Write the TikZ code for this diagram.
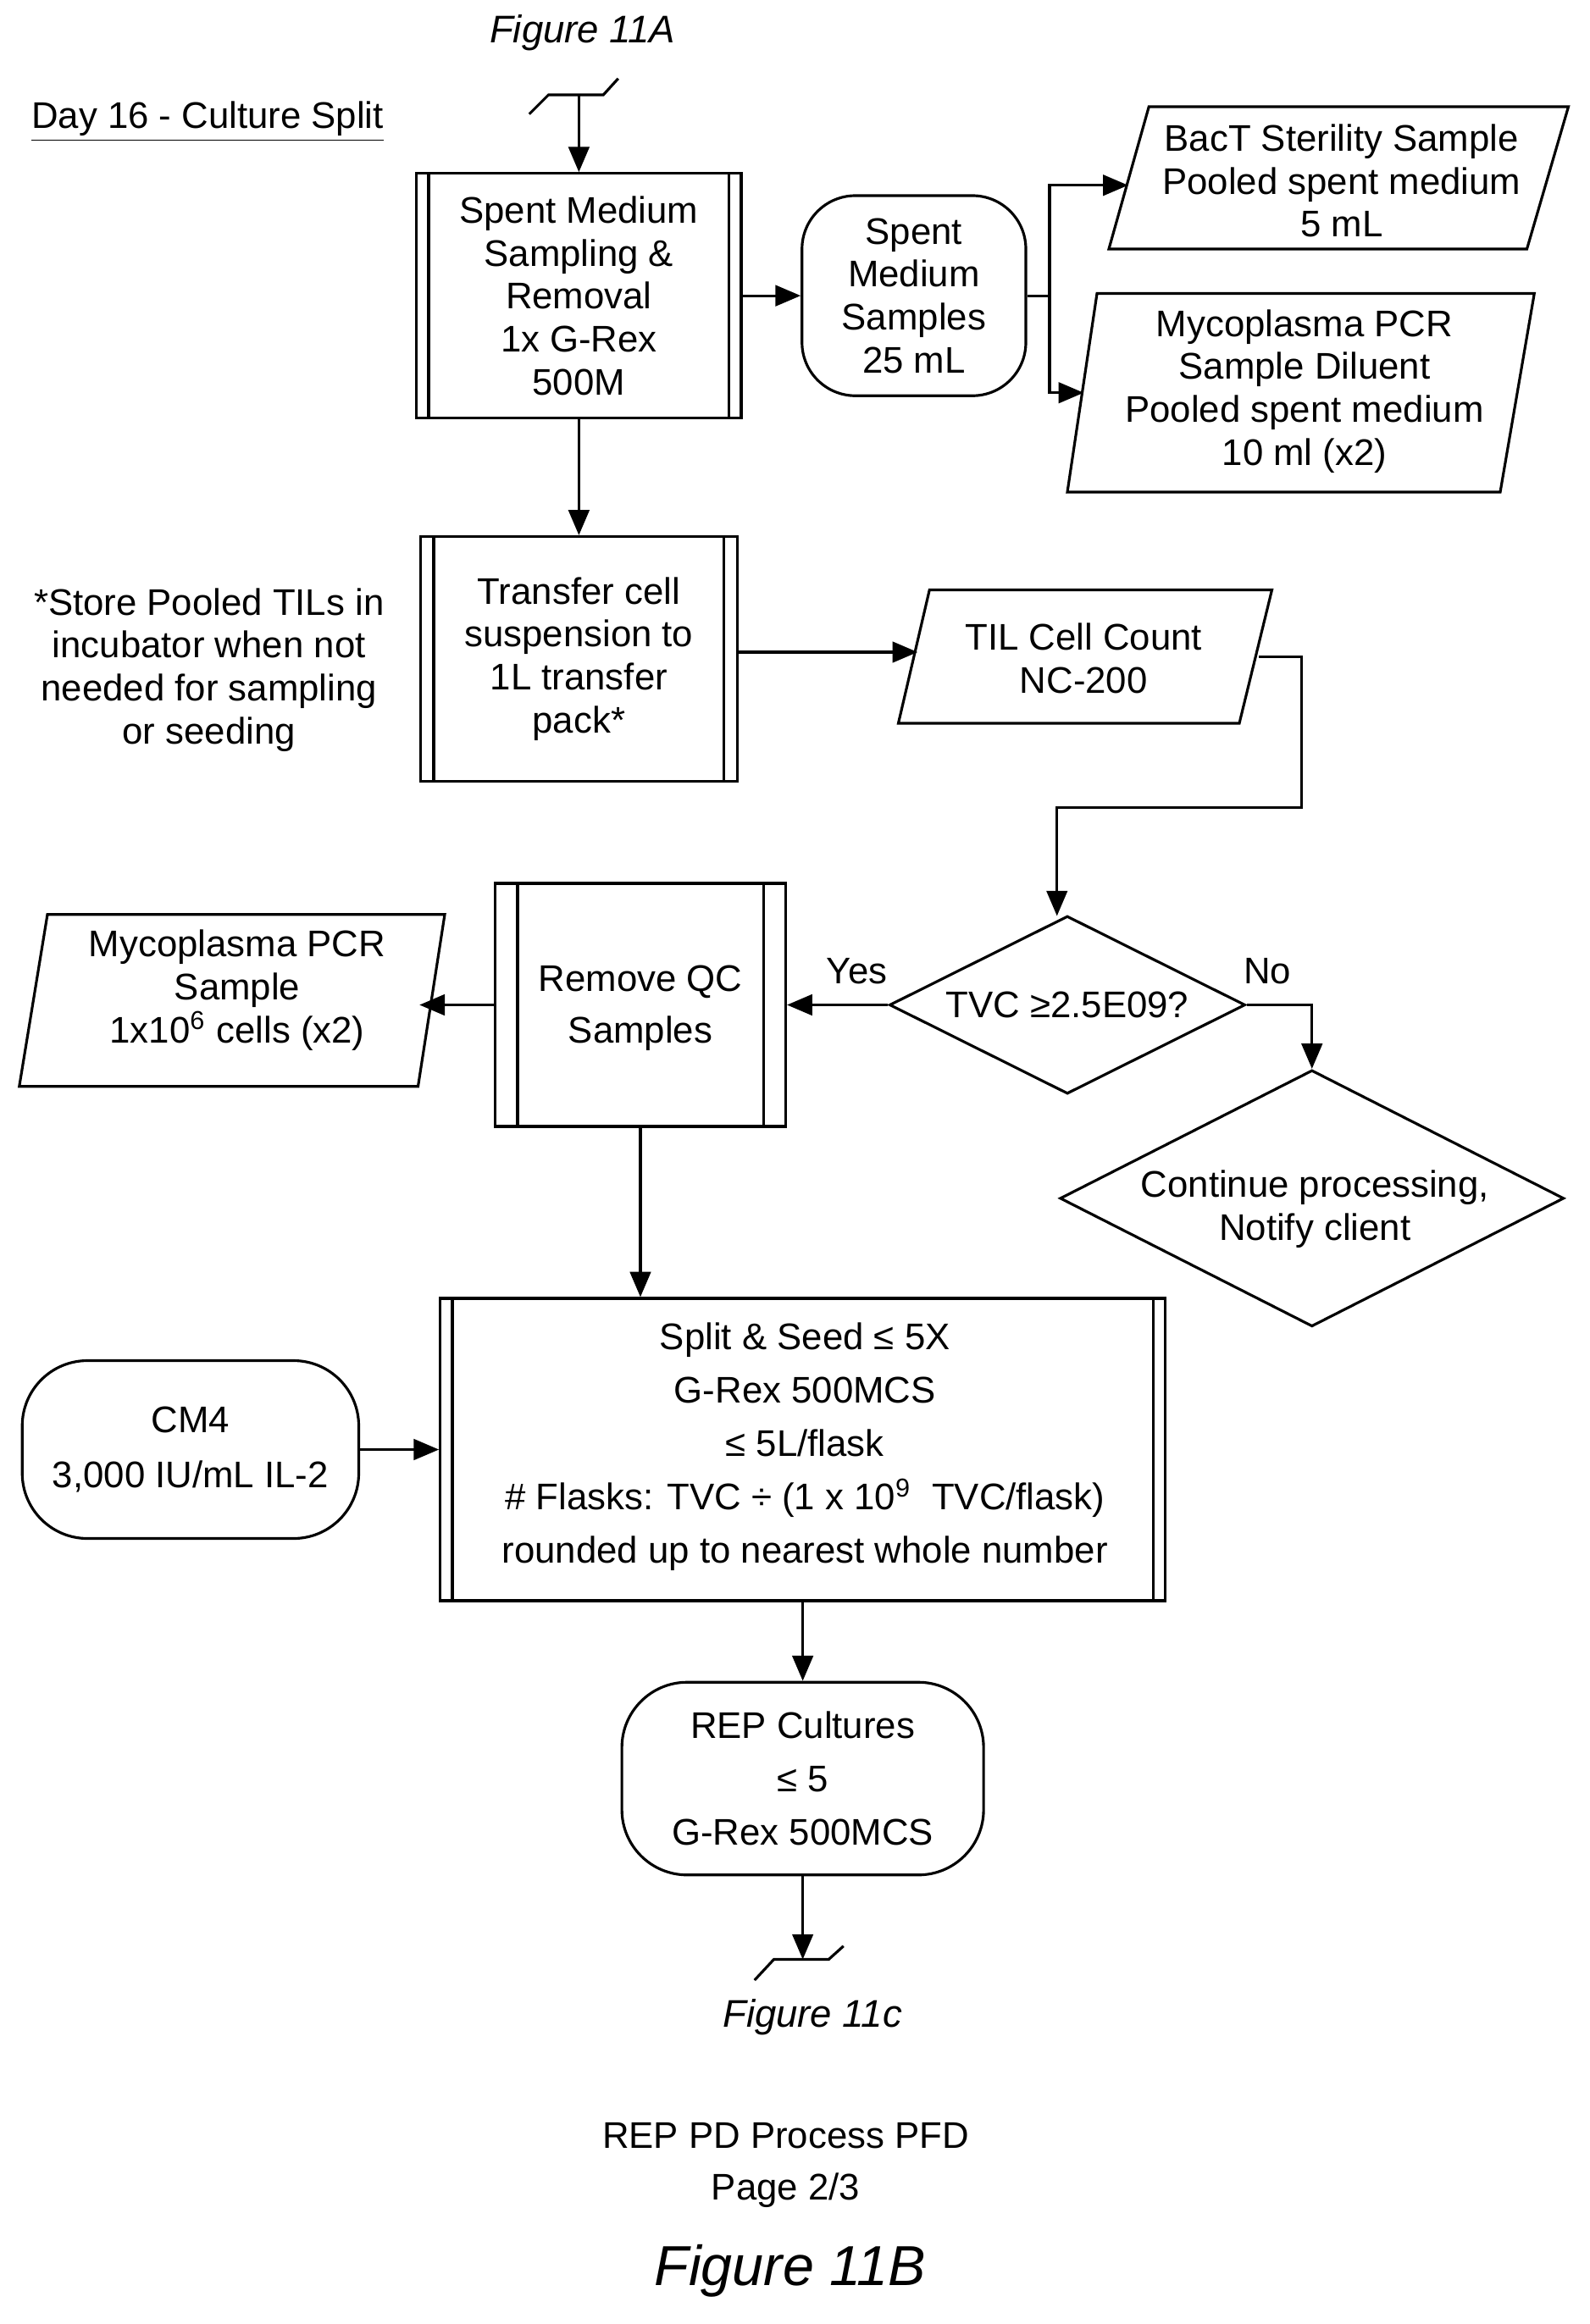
\documentclass[tikz,border=0pt]{standalone}
\usepackage{fontspec}
\setmainfont{Liberation Sans}
\usetikzlibrary{arrows.meta,shapes.geometric}
\begin{document}
\begin{tikzpicture}[x=0.5pt,y=-0.5pt,line width=0.9pt,
  font=\fontsize{12.5}{14.5}\selectfont,
  arr/.style={-{Triangle[width=7pt,length=8.5pt]}},
  txt/.style={align=center,inner sep=0pt},
  pp/.style={draw,rectangle,inner sep=0pt,align=center},
  rr/.style={draw,rounded corners=20pt,inner sep=0pt,align=center}]
\useasboundingbox (0,0) rectangle (1072,1568);
% titles
\node[txt,font=\fontsize{13}{15}\selectfont\itshape] (f11a) at (393,22) {Figure 11A};
\node[txt] (day) at (140,82) {\underline{Day 16 - Culture Split}};
% top connector
\coordinate (ct) at (390.5,64);
\draw (357,77) -- (370,64) -- (407,64) -- (417,53);
% box1
\node[pp,minimum width=109.5pt,minimum height=82.5pt] (b1) at (390.5,199.5) {};
\node[txt] (b1t) at (b1) {Spent Medium\\Sampling \&\\Removal\\1x G-Rex\\500M};
\draw ([xshift=4.5pt]b1.north west) -- ([xshift=4.5pt]b1.south west);
\draw ([xshift=-4.5pt]b1.north east) -- ([xshift=-4.5pt]b1.south east);
\draw[arr] (ct) -- (b1.north);
% spent medium samples
\node[rr,minimum width=75.5pt,minimum height=67.5pt,rounded corners=18pt] (sm) at (616.5,199.5) {Spent\\Medium\\Samples\\25 mL};
\draw[arr] (b1.east) -- (sm.west);
% parallelograms top right
\draw (775,72) -- (1058,72) -- (1030,168) -- (748,168) -- cycle;
\node[txt] (bact) at (905,122) {BacT Sterility Sample\\Pooled spent medium\\5 mL};
\coordinate (bactin) at (761,125);
\draw (740,198) -- (1035,198) -- (1012,332) -- (720,332) -- cycle;
\node[txt] (myc1) at (880,264) {Mycoplasma PCR\\Sample Diluent\\Pooled spent medium\\10 ml (x2)};
\coordinate (myc1in) at (731,265);
\coordinate (sp) at (708,199.5);
\draw (sm.east) -- (sp);
\draw[arr] (sp) |- (bactin);
\draw[arr] (sp) |- (myc1in);
% box2
\node[pp,minimum width=107pt,minimum height=82.5pt] (b2) at (390.5,444.5) {};
\node[txt] (b2t) at (b2) {Transfer cell\\suspension to\\1L transfer\\pack*};
\draw ([xshift=5pt]b2.north west) -- ([xshift=5pt]b2.south west);
\draw ([xshift=-5pt]b2.north east) -- ([xshift=-5pt]b2.south east);
\draw[arr] (b1.south) -- (b2.north);
\node[txt] (note) at (141,452) {*Store Pooled TILs in\\incubator when not\\needed for sampling\\or seeding};
% TIL cell count
\draw (627,398) -- (858,398) -- (836,488) -- (606,488) -- cycle;
\node[txt] (til) at (731,444) {TIL Cell Count\\NC-200};
\coordinate (tilin) at (619,440);
\draw[arr] (b2.east |- tilin) -- (tilin);
% diamond
\node[draw,diamond,aspect=2,minimum width=120pt,minimum height=60pt,inner sep=0pt] (d1) at (720,678) {};
\node[txt] (d1t) at (720,678) {TVC ≥2.5E09?};
\coordinate (tr) at (849,443);
\draw[arr] (tr) -- (878,443) -- (878,545) -- (713,545) -- (713,618);
% diamond 2
\node[draw,diamond,aspect=2,minimum width=170pt,minimum height=86.5pt,inner sep=0pt] (d2) at (885,808.5) {};
\node[txt] (d2t) at (887,816) {Continue processing,\\Notify client};
\draw[arr] (d1.east) -- (885,678) -- (d2.north);
\node[txt] (no) at (855,655) {No};
% box3
\node[pp,minimum width=98pt,minimum height=82pt] (b3) at (432,678) {};
\node[txt] (b3t) at (432,680) {Remove QC\\[3pt]Samples};
\draw ([xshift=8pt]b3.north west) -- ([xshift=8pt]b3.south west);
\draw ([xshift=-8pt]b3.north east) -- ([xshift=-8pt]b3.south east);
\draw[arr] (d1.west) -- (b3.east);
\node[txt] (yes) at (578,655) {Yes};
% myco 2
\draw (32,617) -- (300,617) -- (282,733) -- (13,733) -- cycle;
\node[txt] (myc2) at (160,668) {Mycoplasma PCR\\Sample\\1x10\textsuperscript{6} cells (x2)};
\coordinate (myc2in) at (283,678);
\draw[arr] (b3.west) -- (myc2in);
% box4
\node[pp,minimum width=244.5pt,minimum height=102pt] (b4) at (541.5,978) {};
\node[txt,font=\fontsize{12.5}{18}\selectfont] (b4t) at (543,976) {Split \& Seed ≤ 5X\\G-Rex 500MCS\\≤ 5L/flask\\\# Flasks: TVC ÷ (1 x 10\textsuperscript{9}\ \ TVC/flask)\\rounded up to nearest whole number};
\draw ([xshift=4.5pt]b4.north west) -- ([xshift=4.5pt]b4.south west);
\draw ([xshift=-4.5pt]b4.north east) -- ([xshift=-4.5pt]b4.south east);
\draw[arr] (b3.south) -- (b3.south |- b4.north);
% CM4
\node[rr,minimum width=113.5pt,minimum height=60pt,rounded corners=22pt] (cm4) at (128.5,978) {CM4\\[4pt]3,000 IU/mL IL-2};
\draw[arr] (cm4.east) -- (b4.west |- cm4.east);
% REP cultures
\node[rr,minimum width=122pt,minimum height=65pt,rounded corners=22pt,font=\fontsize{12.5}{18}\selectfont] (rep) at (541.5,1200) {REP Cultures\\≤ 5\\G-Rex 500MCS};
\draw[arr] (b4.south) -- (rep.north);
% bottom connector
\coordinate (cb) at (541.5,1322);
\draw (509,1336) -- (522,1322) -- (559,1322) -- (569,1313);
\draw[arr] (rep.south) -- (cb);
\node[txt,font=\fontsize{13}{15}\selectfont\itshape] (f11c) at (548,1361) {Figure 11c};
\node[txt] (pfd) at (530,1461) {REP PD Process PFD\\[3pt]Page 2/3};
\node[txt,font=\fontsize{19}{22}\selectfont\itshape] (f11b) at (533,1532) {Figure 11B};
\end{tikzpicture}
\end{document}
